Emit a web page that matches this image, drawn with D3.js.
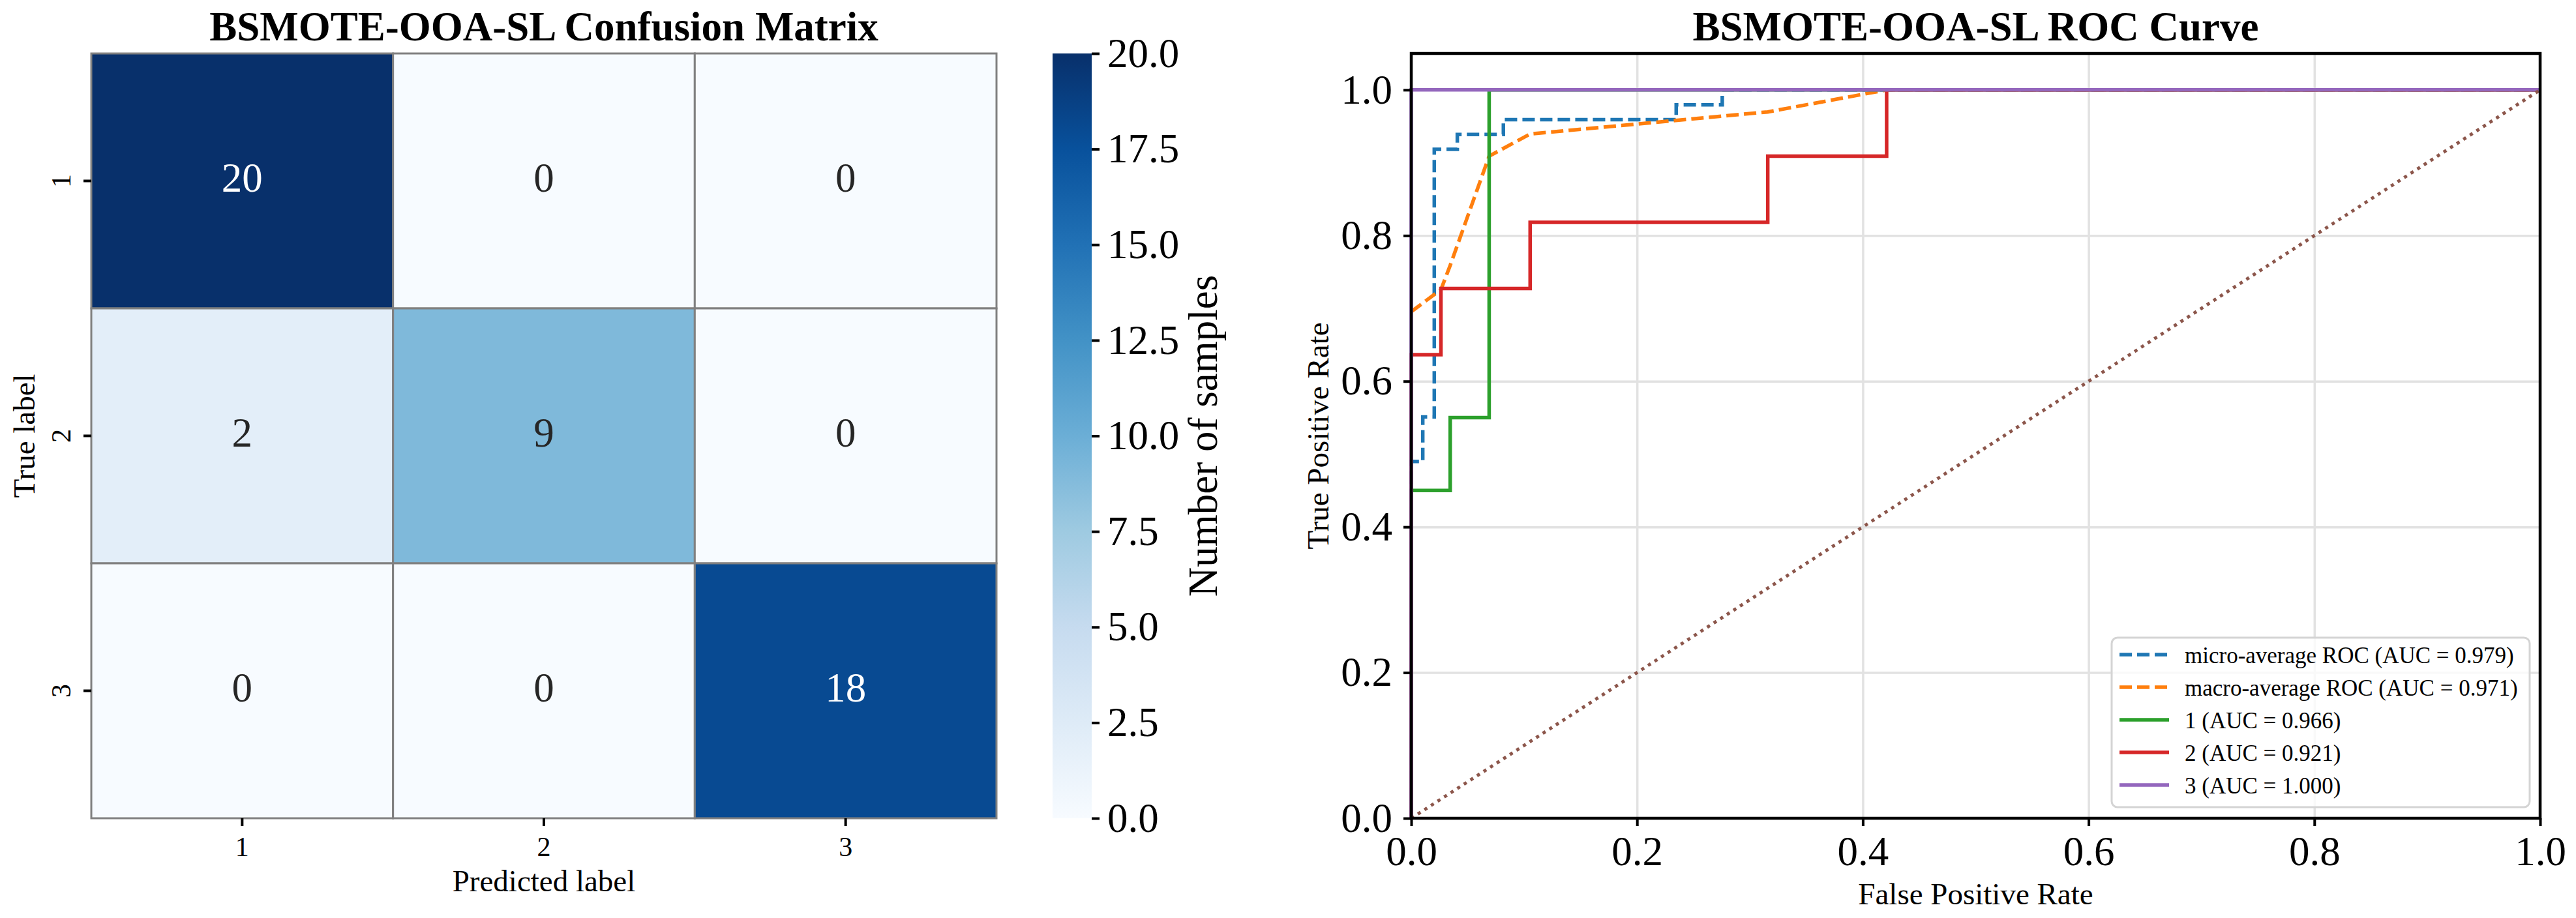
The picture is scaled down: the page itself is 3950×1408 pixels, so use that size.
<!DOCTYPE html>
<meta charset="utf-8">
<style>

body {
  margin: 0;
  background-color: white;
}

svg text {
  font-family: "Liberation Serif", "Times New Roman", serif;
  fill: black;
}

</style>
<body>

<div id="chart"></div>

<script src="https://cdn.jsdelivr.net/npm/d3@7"></script>
<script>

// ---- confusion matrix ----
var cmLabels = ['1', '2', '3'];
var cmRow1 = [20, 0, 0];
var cmRow2 = [2, 9, 0];
var cmRow3 = [0, 0, 18];
var cbTicks = [0, 2.5, 5, 7.5, 10, 12.5, 15, 17.5, 20];

// ---- roc curves ----
var rocTicks = [0, 0.2, 0.4, 0.6, 0.8, 1.0];

var microFpr = [0, 0, 0.0102, 0.0102, 0.0204, 0.0204, 0.0408, 0.0408, 0.0816, 0.0816, 0.2347, 0.2347, 0.2755, 0.2755, 1];
var microTpr = [0, 0.4898, 0.4898, 0.5510, 0.5510, 0.9184, 0.9184, 0.9388, 0.9388, 0.9592, 0.9592, 0.9796, 0.9796, 1, 1];

var macroFpr = [0, 0.0263, 0.0345, 0.0690, 0.1053, 0.3158, 0.4211, 1];
var macroTpr = [0.6955, 0.7258, 0.7591, 0.9091, 0.9394, 0.9697, 1, 1];

var class1Fpr = [0, 0, 0.0345, 0.0345, 0.0690, 0.0690, 1];
var class1Tpr = [0, 0.45, 0.45, 0.55, 0.55, 1, 1];

var class2Fpr = [0, 0, 0.0263, 0.0263, 0.1053, 0.1053, 0.3158, 0.3158, 0.4211, 0.4211, 1];
var class2Tpr = [0, 0.6364, 0.6364, 0.7273, 0.7273, 0.8182, 0.8182, 0.9091, 0.9091, 1, 1];

var class3Fpr = [0, 0, 1];
var class3Tpr = [0, 1, 1];

var chanceFpr = [0, 1];
var chanceTpr = [0, 1];

var rocLabels = ['micro-average ROC (AUC = 0.979)', 'macro-average ROC (AUC = 0.971)',
                 '1 (AUC = 0.966)', '2 (AUC = 0.921)', '3 (AUC = 1.000)'];

// matplotlib "Blues"
var blues = ['#f7fbff', '#deebf7', '#c6dbef', '#9ecae1', '#6baed6', '#4292c6', '#2171b5', '#08519c', '#08306b'];

var W = 3950, H = 1408;
var LW = 5.5;   // curve width

var svg = d3.select('#chart').append('svg')
  .attr('width', W)
  .attr('height', H)
  .style('background', 'white');

var colorScale = d3.scaleLinear()
  .domain(blues.map(function(c, i){ return 20 * i / (blues.length - 1); }))
  .range(blues);

drawConfusion();
drawColorbar();
drawRoc();


function drawConfusion(){
  var left = 140, right = 1528, top = 82, bottom = 1255;
  var rows = [cmRow1, cmRow2, cmRow3];

  var x = d3.scaleBand().domain(cmLabels).range([left, right]);
  var y = d3.scaleBand().domain(cmLabels).range([top, bottom]);

  var cells = [];
  rows.forEach(function(r, i){
    r.forEach(function(v, j){
      cells.push({row: cmLabels[i], col: cmLabels[j], value: v});
    });
  });

  var g = svg.append('g');

  g.selectAll('rect.cell')
    .data(cells)
    .enter().append('rect')
    .attr('class', 'cell')
    .attr('x', function(d){ return x(d.col); })
    .attr('y', function(d){ return y(d.row); })
    .attr('width', x.bandwidth())
    .attr('height', y.bandwidth())
    .style('fill', function(d){ return colorScale(d.value); })
    .style('stroke', '#808080')
    .style('stroke-width', 3);

  g.selectAll('text.annot')
    .data(cells)
    .enter().append('text')
    .attr('class', 'annot')
    .attr('x', function(d){ return x(d.col) + x.bandwidth() / 2; })
    .attr('y', function(d){ return y(d.row) + y.bandwidth() / 2 + 16; })
    .attr('text-anchor', 'middle')
    .style('font-size', '63px')
    .style('fill', function(d){ return luminance(colorScale(d.value)) < 0.408 ? 'white' : '#262626'; })
    .text(function(d){ return d.value; });

  // axes
  var xAxis = svg.append('g')
    .attr('transform', 'translate(0,' + bottom + ')')
    .call(d3.axisBottom(x).tickSize(12).tickPadding(16));
  styleAxis(xAxis, '42px');

  var yAxis = svg.append('g')
    .attr('transform', 'translate(' + left + ',0)')
    .call(d3.axisLeft(y).tickSize(12));
  styleAxis(yAxis, '42px');
  yAxis.selectAll('text')
    .attr('x', null)
    .attr('dy', null)
    .attr('text-anchor', 'middle')
    .attr('transform', 'translate(-32,0) rotate(-90)');

  svg.append('text')
    .attr('x', (left + right) / 2)
    .attr('y', 1367)
    .attr('text-anchor', 'middle')
    .style('font-size', '47px')
    .text('Predicted label');

  svg.append('text')
    .attr('transform', 'translate(53,' + (top + bottom) / 2 + ') rotate(-90)')
    .attr('text-anchor', 'middle')
    .style('font-size', '47px')
    .text('True label');

  svg.append('text')
    .attr('x', (left + right) / 2)
    .attr('y', 62)
    .attr('text-anchor', 'middle')
    .style('font-size', '63px')
    .style('font-weight', 'bold')
    .text('BSMOTE-OOA-SL Confusion Matrix');
}


function drawColorbar(){
  var left = 1614, width = 60, top = 82, bottom = 1255;

  var grad = svg.append('defs').append('linearGradient')
    .attr('id', 'cbGrad')
    .attr('x1', 0).attr('y1', 1)
    .attr('x2', 0).attr('y2', 0);

  grad.selectAll('stop')
    .data(blues)
    .enter().append('stop')
    .attr('offset', function(d, i){ return (i / (blues.length - 1) * 100) + '%'; })
    .attr('stop-color', function(d){ return d; });

  svg.append('rect')
    .attr('x', left)
    .attr('y', top)
    .attr('width', width)
    .attr('height', bottom - top)
    .style('fill', 'url(#cbGrad)');

  var cb = d3.scaleLinear().domain([0, 20]).range([bottom, top]);

  var axis = svg.append('g')
    .attr('transform', 'translate(' + (left + width) + ',0)')
    .call(d3.axisRight(cb).tickValues(cbTicks).tickFormat(d3.format('.1f')).tickSize(12).tickPadding(12));
  styleAxis(axis, '63px');

  svg.append('text')
    .attr('transform', 'translate(1866,' + (top + bottom) / 2 + ') rotate(-90)')
    .attr('text-anchor', 'middle')
    .style('font-size', '63px')
    .text('Number of samples');
}


function drawRoc(){
  var left = 2164, right = 3895, top = 82, bottom = 1255;

  var x = d3.scaleLinear().domain([0, 1]).range([left, right]);
  var y = d3.scaleLinear().domain([0, 1.05]).range([bottom, top]);

  // grid
  var gx = svg.append('g')
    .attr('transform', 'translate(0,' + bottom + ')')
    .call(d3.axisBottom(x).tickValues(rocTicks).tickSize(-(bottom - top)).tickFormat(''));
  var gy = svg.append('g')
    .attr('transform', 'translate(' + left + ',0)')
    .call(d3.axisLeft(y).tickValues(rocTicks).tickSize(-(right - left)).tickFormat(''));
  [gx, gy].forEach(function(g){
    g.select('.domain').remove();
    g.selectAll('line').style('stroke', '#e2e2e2').style('stroke-width', 3.5);
  });

  var series = [
    {label: rocLabels[0], fpr: microFpr, tpr: microTpr, color: '#1f77b4', dash: '19,8'},
    {label: rocLabels[1], fpr: macroFpr, tpr: macroTpr, color: '#ff7f0e', dash: '19,8'},
    {label: rocLabels[2], fpr: class1Fpr, tpr: class1Tpr, color: '#2ca02c', dash: null},
    {label: rocLabels[3], fpr: class2Fpr, tpr: class2Tpr, color: '#d62728', dash: null},
    {label: rocLabels[4], fpr: class3Fpr, tpr: class3Tpr, color: '#9467bd', dash: null}
  ];

  var line = d3.line()
    .x(function(d){ return x(d[0]); })
    .y(function(d){ return y(d[1]); });

  series.forEach(function(s){
    svg.append('path')
      .datum(d3.zip(s.fpr, s.tpr))
      .attr('d', line)
      .style('fill', 'none')
      .style('stroke', s.color)
      .style('stroke-width', LW)
      .style('stroke-dasharray', s.dash);
  });

  // chance line
  svg.append('path')
    .datum(d3.zip(chanceFpr, chanceTpr))
    .attr('d', line)
    .style('fill', 'none')
    .style('stroke', '#8c564b')
    .style('stroke-width', 5)
    .style('stroke-dasharray', '5,7');

  // axes
  var xAxis = svg.append('g')
    .attr('transform', 'translate(0,' + bottom + ')')
    .call(d3.axisBottom(x).tickValues(rocTicks).tickFormat(d3.format('.1f')).tickSize(12).tickPadding(15));
  styleAxis(xAxis, '63px');

  var yAxis = svg.append('g')
    .attr('transform', 'translate(' + left + ',0)')
    .call(d3.axisLeft(y).tickValues(rocTicks).tickFormat(d3.format('.1f')).tickSize(12).tickPadding(17));
  styleAxis(yAxis, '63px');

  // frame
  svg.append('rect')
    .attr('x', left)
    .attr('y', top)
    .attr('width', right - left)
    .attr('height', bottom - top)
    .style('fill', 'none')
    .style('stroke', 'black')
    .style('stroke-width', 4.5);

  svg.append('text')
    .attr('x', (left + right) / 2)
    .attr('y', 1387)
    .attr('text-anchor', 'middle')
    .style('font-size', '47px')
    .text('False Positive Rate');

  svg.append('text')
    .attr('transform', 'translate(2037,' + (top + bottom) / 2 + ') rotate(-90)')
    .attr('text-anchor', 'middle')
    .style('font-size', '47px')
    .text('True Positive Rate');

  svg.append('text')
    .attr('x', (left + right) / 2)
    .attr('y', 62)
    .attr('text-anchor', 'middle')
    .style('font-size', '63px')
    .style('font-weight', 'bold')
    .text('BSMOTE-OOA-SL ROC Curve');

  drawLegend(series);
}


function drawLegend(series){
  var lx = 3238, ly = 978, lw = 641, lh = 260;
  var g = svg.append('g');

  g.append('rect')
    .attr('x', lx)
    .attr('y', ly)
    .attr('width', lw)
    .attr('height', lh)
    .attr('rx', 9)
    .style('fill', 'rgba(255,255,255,0.8)')
    .style('stroke', '#d4d4d4')
    .style('stroke-width', 3);

  var item = g.selectAll('g.item')
    .data(series)
    .enter().append('g')
    .attr('class', 'item')
    .attr('transform', function(d, i){ return 'translate(0,' + (1004 + i * 50) + ')'; });

  item.append('line')
    .attr('x1', 3250)
    .attr('x2', 3326)
    .style('stroke', function(d){ return d.color; })
    .style('stroke-width', LW)
    .style('stroke-dasharray', function(d){ return d.dash; });

  item.append('text')
    .attr('x', 3350)
    .attr('y', 13)
    .style('font-size', '35px')
    .text(function(d){ return d.label; });
}


//-------------------------------------------------------------------------------------

function styleAxis(g, fontsize){
  g.select('.domain').remove();
  g.selectAll('.tick line').style('stroke', 'black').style('stroke-width', 4);
  g.selectAll('.tick text')
    .style('font-size', fontsize)
    .style('font-family', '"Liberation Serif", "Times New Roman", serif')
    .attr('fill', 'black');
}

function luminance(c){
  var rgb = d3.rgb(c);
  var ch = [rgb.r, rgb.g, rgb.b].map(function(v){
    v = v / 255;
    return v <= 0.03928 ? v / 12.92 : Math.pow((v + 0.055) / 1.055, 2.4);
  });
  return 0.2126 * ch[0] + 0.7152 * ch[1] + 0.0722 * ch[2];
}

</script>
